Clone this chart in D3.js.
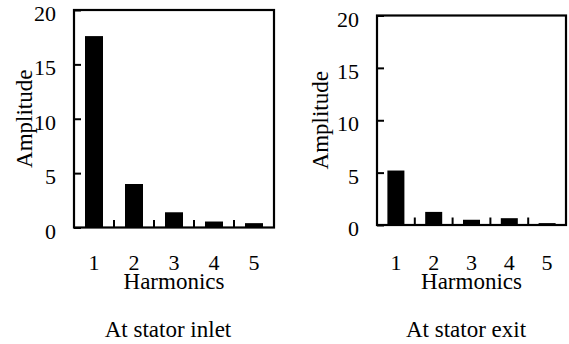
<!DOCTYPE html>
<html>
<head>
<meta charset="utf-8">
<script src="https://cdn.jsdelivr.net/npm/d3@7"></script>
<style>
  body { margin: 0; background: #fff; }
  text { font-family: "Times New Roman", "Liberation Serif", serif; fill: #000; }
</style>
</head>
<body>
<div class="vis-harmonics"></div>
<script>
// data
var harmonics = ["1", "2", "3", "4", "5"];
var inletAmplitude = [17.6, 4.0, 1.4, 0.55, 0.4];
var exitAmplitude = [5.2, 1.25, 0.5, 0.65, 0.18];
var yTicks = [0, 5, 10, 15, 20];
var captions = ["At stator inlet", "At stator exit"];

var width = 569, height = 344;

var svg = d3.select(".vis-harmonics")
  .append("svg")
    .attr("width", width)
    .attr("height", height);

// two panels side by side
var panels = [
  {values: inletAmplitude, caption: captions[0], left: 74, right: 274, top: 10, bottom: 227.5, titleX: 24, capX: 168},
  {values: exitAmplitude, caption: captions[1], left: 377, right: 566, top: 15.5, bottom: 225, titleX: 320, capX: 466}
];

panels.forEach(function(p) {
  var g = svg.append("g");

  var x = d3.scaleBand()
    .domain(harmonics)
    .range([p.left, p.right])
    .paddingInner(0.55)
    .paddingOuter(0.275);

  var y = d3.scaleLinear()
    .domain([0, 20])
    .range([p.bottom, p.top]);

  // bars
  g.selectAll("rect.bar")
    .data(p.values)
    .enter()
    .append("rect")
      .attr("class", "bar")
      .attr("x", function(d, i) { return x(harmonics[i]); })
      .attr("y", function(d) { return y(d); })
      .attr("width", x.bandwidth())
      .attr("height", function(d) { return y(0) - y(d); })
      .style("fill", "#000");

  // y axis: ticks pointing inward, labels on the left
  var yAxis = g.append("g")
    .attr("transform", "translate(" + p.left + ",0)")
    .call(d3.axisRight(y).tickValues(yTicks).tickSize(7).tickFormat(""));
  yAxis.select(".domain").remove();
  yAxis.selectAll("line").attr("stroke", "#000").attr("stroke-width", 2);

  g.selectAll("text.ylab")
    .data(yTicks)
    .enter()
    .append("text")
      .attr("class", "ylab")
      .attr("x", p.left - 18)
      .attr("y", function(d) { return y(d); })
      .attr("dy", "0.5em")
      .attr("text-anchor", "end")
      .style("font-size", "22px")
      .text(function(d) { return d; });

  // x ticks between categories, pointing up
  var step = x.step();
  g.selectAll("line.xtick")
    .data(harmonics.slice(1))
    .enter()
    .append("line")
      .attr("class", "xtick")
      .attr("x1", function(h) { return x(h) - (step - x.bandwidth()) / 2; })
      .attr("x2", function(h) { return x(h) - (step - x.bandwidth()) / 2; })
      .attr("y1", p.bottom)
      .attr("y2", p.bottom - 7.5)
      .attr("stroke", "#000")
      .attr("stroke-width", 2);

  g.selectAll("text.xlab")
    .data(harmonics)
    .enter()
    .append("text")
      .attr("class", "xlab")
      .attr("x", function(h) { return x(h) + x.bandwidth() / 2; })
      .attr("y", 270)
      .attr("text-anchor", "middle")
      .style("font-size", "22px")
      .text(function(h) { return h; });

  // frame
  g.append("rect")
    .attr("x", p.left)
    .attr("y", p.top)
    .attr("width", p.right - p.left)
    .attr("height", p.bottom - p.top)
    .attr("fill", "none")
    .attr("stroke", "#000")
    .attr("stroke-width", 2.2);

  // axis titles
  g.append("text")
    .attr("transform", "translate(" + p.titleX + "," + (p.top + p.bottom) / 2 + ") rotate(-90)")
    .attr("dy", "0.35em")
    .attr("text-anchor", "middle")
    .style("font-size", "23px")
    .text("Amplitude");

  g.append("text")
    .attr("x", (p.left + p.right) / 2)
    .attr("y", 289)
    .attr("text-anchor", "middle")
    .style("font-size", "23px")
    .text("Harmonics");

  g.append("text")
    .attr("x", p.capX)
    .attr("y", 337)
    .attr("text-anchor", "middle")
    .style("font-size", "23px")
    .text(p.caption);
});
</script>
</body>
</html>
